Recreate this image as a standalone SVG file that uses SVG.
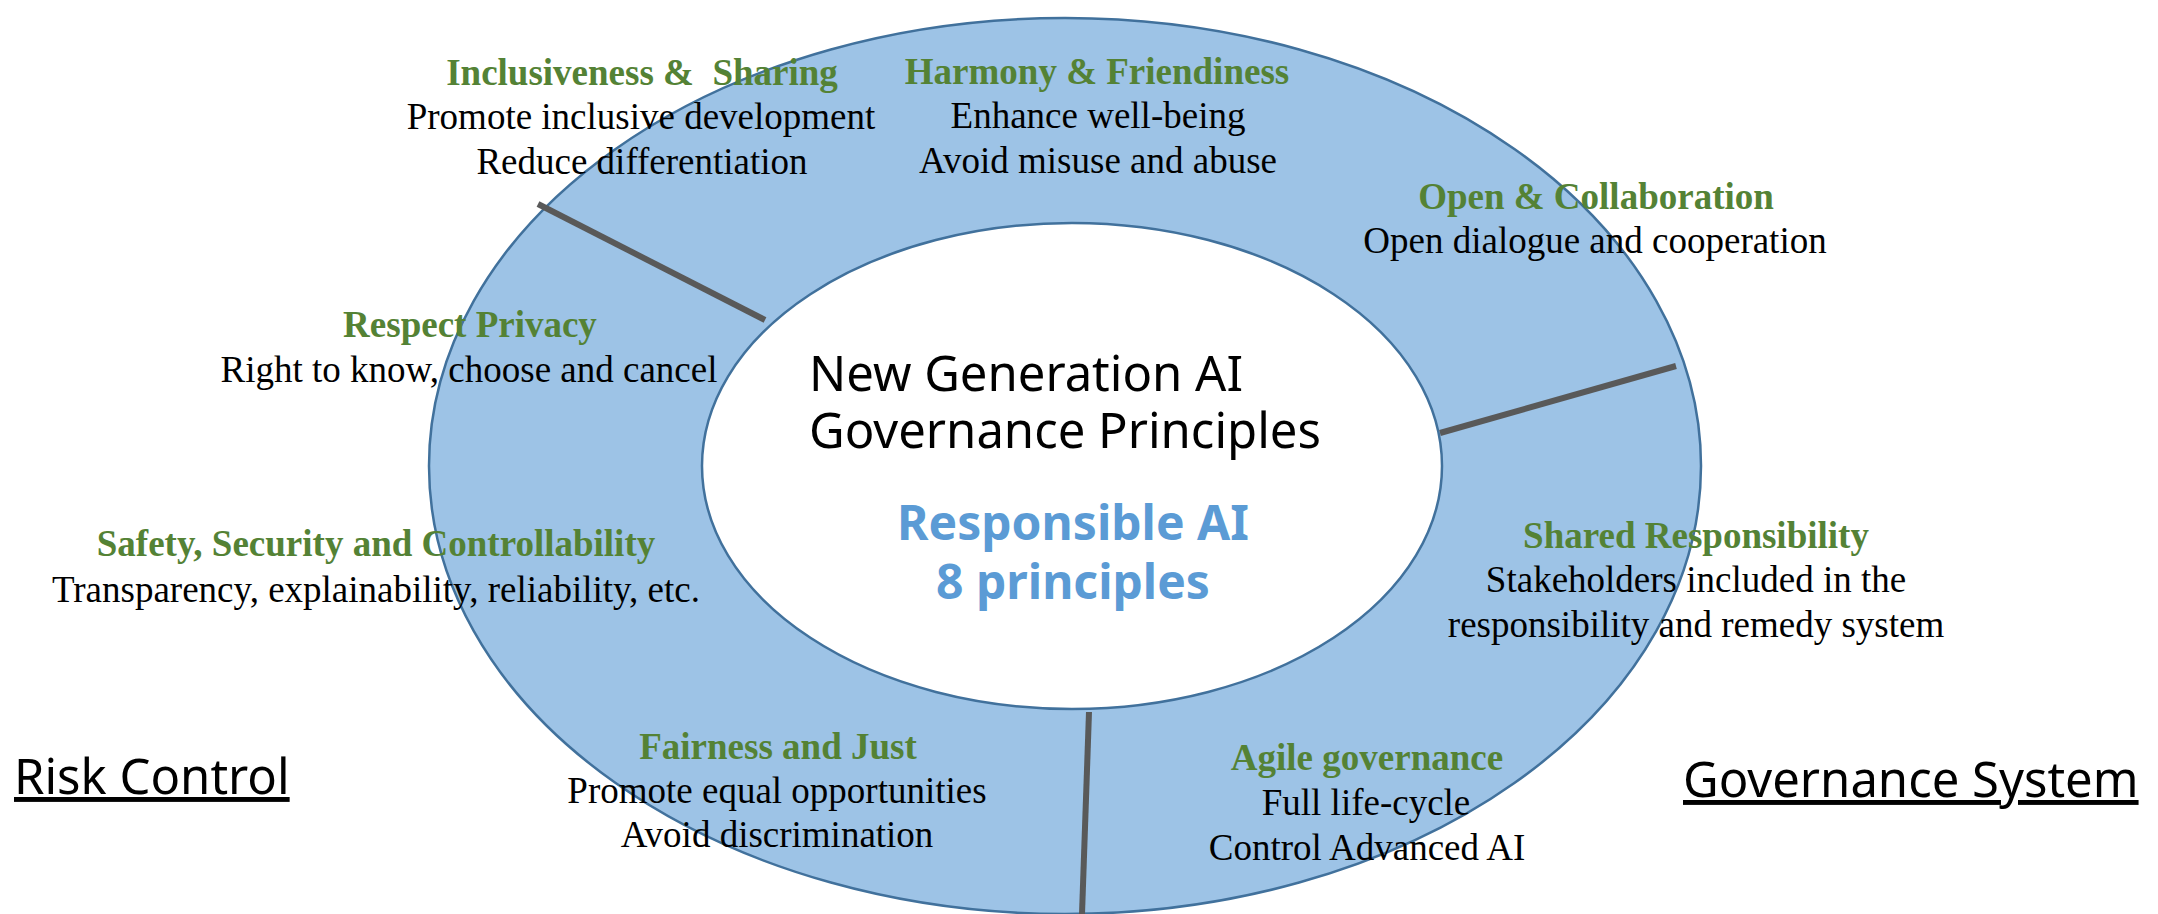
<svg xmlns="http://www.w3.org/2000/svg" width="2158" height="914" viewBox="0 0 2158 914">
<style>
.h{font-family:"Liberation Serif","Times New Roman",serif;font-weight:bold;font-size:37px;fill:#548235;text-anchor:middle}
.b{font-family:"Liberation Serif","Times New Roman",serif;font-size:37px;fill:#000;text-anchor:middle}
.t{font-family:"Noto Sans","Open Sans",sans-serif;font-size:49px;fill:#000}
.r{font-family:"Noto Sans","Open Sans",sans-serif;font-weight:bold;font-size:48px;fill:#5B9BD5;text-anchor:middle}
.s{font-family:"Noto Sans","Open Sans",sans-serif;font-size:49px;fill:#000;text-decoration:underline}
.div{stroke:#595959;stroke-width:6;fill:none}
</style>
<rect width="2158" height="914" fill="#fff"/>
<g id="ring">
<ellipse cx="1065" cy="466" rx="636" ry="448" fill="#9DC3E6" stroke="#41719C" stroke-width="2.5"/>
<ellipse cx="1072" cy="466" rx="370" ry="243" fill="#fff" stroke="#41719C" stroke-width="2.5"/>
</g>
<g id="connectors">
<line class="div" x1="538" y1="204" x2="765" y2="320"/>
<line class="div" x1="1440" y1="433" x2="1676" y2="366"/>
<line class="div" x1="1089" y1="712" x2="1082" y2="914"/>
</g>
<g id="center">
<text class="t"><tspan x="809" y="391">New Generation AI</tspan><tspan x="809" y="448">Governance Principles</tspan></text>
<text class="r"><tspan x="1073" y="540">Responsible AI</tspan><tspan x="1073" y="599">8 principles</tspan></text>
</g>
<g id="inclusiveness">
<text class="h" x="642" y="85">Inclusiveness &amp;&#160; Sharing</text>
<text class="b" x="641" y="129">Promote inclusive development</text>
<text class="b" x="642" y="174">Reduce differentiation</text>
</g>
<g id="harmony">
<text class="h" x="1097" y="84">Harmony &amp; Friendiness</text>
<text class="b" x="1098" y="128">Enhance well-being</text>
<text class="b" x="1098" y="173">Avoid misuse and abuse</text>
</g>
<g id="open">
<text class="h" x="1596" y="209">Open &amp; Collaboration</text>
<text class="b" x="1595" y="253">Open dialogue and cooperation</text>
</g>
<g id="privacy">
<text class="h" x="470" y="337">Respect Privacy</text>
<text class="b" x="469" y="382">Right to know, choose and cancel</text>
</g>
<g id="safety">
<text class="h" x="376" y="556">Safety, Security and Controllability</text>
<text class="b" x="376" y="602">Transparency, explainability, reliability, etc.</text>
</g>
<g id="fairness">
<text class="h" x="778" y="759">Fairness and Just</text>
<text class="b" x="777" y="803">Promote equal opportunities</text>
<text class="b" x="777" y="847">Avoid discrimination</text>
</g>
<g id="shared">
<text class="h" x="1696" y="548">Shared Responsibility</text>
<text class="b" x="1696" y="592">Stakeholders included in the</text>
<text class="b" x="1696" y="637">responsibility and remedy system</text>
</g>
<g id="agile">
<text class="h" x="1367" y="770">Agile governance</text>
<text class="b" x="1366" y="815">Full life-cycle</text>
<text class="b" x="1367" y="860">Control Advanced AI</text>
</g>
<g id="risk-control">
<text class="s" x="14" y="794">Risk Control</text>
</g>
<g id="governance-system">
<text class="s" x="1683" y="797">Governance System</text>
</g>
</svg>
